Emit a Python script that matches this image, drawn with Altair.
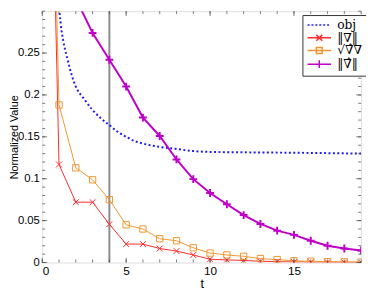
import altair as alt
import pandas as pd

# ---- data ----
t_steps = list(range(0, 20))
grad_norm = [1.0, 0.117, 0.072, 0.072, 0.0457, 0.022, 0.022, 0.0167, 0.0137, 0.009,
             0.0039, 0.0031, 0.0025, 0.0015, 0.001, 0.0007, 0.0005, 0.0004, 0.0003, 0.0002]
sqrt_hat = [1.0, 0.188, 0.113, 0.0987, 0.075, 0.045, 0.040, 0.0284, 0.026, 0.0176,
            0.0113, 0.009, 0.0074, 0.0047, 0.0035, 0.002, 0.0015, 0.001, 0.0008, 0.0005]
hat_norm = [1.0, 0.40, 0.315, 0.274, 0.242, 0.21, 0.173, 0.151, 0.123, 0.0995,
            0.083, 0.0695, 0.0566, 0.046, 0.038, 0.033, 0.026, 0.020, 0.0167, 0.0144]
obj_t = [0.95, 1.0, 1.1, 1.25, 1.5, 1.75, 2.0, 2.5, 3.0, 3.5, 4.0, 4.5, 5.0, 5.5,
         6.0, 7.0, 8.0, 9.0, 10, 12, 15, 19]
obj_v = [0.34, 0.31, 0.285, 0.265, 0.243, 0.224, 0.210, 0.195, 0.182, 0.172, 0.164,
         0.156, 0.150, 0.145, 0.142, 0.138, 0.1355, 0.133, 0.132, 0.1315, 0.131, 0.130]
marker_t = [4]

names = ["obj", "‖∇‖", "√∇̂∇", "‖∇̂‖"]
colors = ["#1a1aff", "#ff2a2a", "#f0962e", "#c000c8"]

x_major = [0, 5, 10, 15]
x_minor = list(range(0, 20))
y_major = [0, 0.05, 0.1, 0.15, 0.2, 0.25]
y_minor = [i / 100 for i in range(0, 31)]

W, H = 326, 257

df_obj = pd.DataFrame({"t": obj_t, "v": obj_v})
df_red = pd.DataFrame({"t": t_steps, "v": grad_norm})
df_org = pd.DataFrame({"t": t_steps, "v": sqrt_hat})
df_mag = pd.DataFrame({"t": t_steps, "v": hat_norm})

xs = alt.Scale(domain=[0, 19], nice=False, zero=False)
ys = alt.Scale(domain=[0, 0.3], nice=False, zero=False)
X = alt.X("t:Q", scale=xs,
          axis=alt.Axis(values=x_major, ticks=False, domain=False, grid=False,
                        title="t", labelFontSize=12, titleFontSize=13,
                        titleFontWeight="normal", labelPadding=3, titlePadding=2,
                        labelFont="Liberation Sans", titleFont="Liberation Sans"))
Y = alt.Y("v:Q", scale=ys,
          axis=alt.Axis(values=y_major, ticks=False, domain=False, grid=False,
                        format="~g", title="Normalized Value", labelFontSize=11.5,
                        titleFontSize=11, titleFontWeight="normal", labelPadding=3,
                        titlePadding=-2, labelFont="Liberation Sans",
                        titleFont="Liberation Sans"))

X_plain = alt.X("t:Q", scale=xs)
Y_plain = alt.Y("v:Q", scale=ys)

vline = alt.Chart(pd.DataFrame({"t": marker_t})).mark_rule(
    color="#8a8a8a", strokeWidth=2).encode(x=X)

line_obj = alt.Chart(df_obj).mark_line(
    color=colors[0], strokeWidth=2, strokeDash=[2, 2.5], interpolate="monotone",
    clip=True).encode(x=X, y=Y)
line_red = alt.Chart(df_red).mark_line(color=colors[1], strokeWidth=1, clip=True).encode(x=X_plain, y=Y_plain)
line_org = alt.Chart(df_org).mark_line(color=colors[2], strokeWidth=1, clip=True).encode(x=X_plain, y=Y_plain)
line_mag = alt.Chart(df_mag).mark_line(color=colors[3], strokeWidth=2, clip=True).encode(x=X_plain, y=Y_plain)

x_path = "M-1,-1L1,1M-1,1L1,-1"
plus_path = "M-1,0H1M0,-1V1"
pt_red = alt.Chart(df_red).mark_point(shape=x_path, size=36, color=colors[1], filled=False,
                                      strokeWidth=1, clip=True, opacity=1).encode(x=X_plain, y=Y_plain)
pt_org = alt.Chart(df_org).mark_point(shape="square", size=42, color=colors[2], filled=False,
                                      strokeWidth=1, clip=True, opacity=1).encode(x=X_plain, y=Y_plain)
pt_mag = alt.Chart(df_mag).mark_point(shape=plus_path, size=64, color=colors[3], filled=False,
                                      strokeWidth=2, clip=True, opacity=1).encode(x=X_plain, y=Y_plain)

# legend from an invisible layer
leg_paths = [
    "M-2.4,0H-2M-1.6,0H-1.2M-0.8,0H-0.4M0,0H0.4M0.8,0H1.2M1.6,0H2",
    "M-2.4,0H2.4M-0.6,-0.6L0.6,0.6M-0.6,0.6L0.6,-0.6",
    "M-2.4,0H2.4M-0.6,-0.6H0.6V0.6H-0.6Z",
    "M-2.4,0H2.4M0,-0.8V0.8",
]
legend = alt.Legend(title=None, orient="none", legendX=266, legendY=4,
                    symbolOpacity=1, symbolSize=100, symbolStrokeWidth=1.5,
                    symbolOffset=7, labelOffset=12, labelFont="DejaVu Serif",
                    labelFontSize=12.5, padding=4, rowPadding=0,
                    strokeColor="#333", fillColor="white", symbolFillColor="transparent")
leg_layer = alt.Chart(pd.DataFrame({"series": names})).mark_point(
    opacity=0, filled=False).encode(
    color=alt.Color("series:N", scale=alt.Scale(domain=names, range=colors),
                    sort=names, legend=legend),
    shape=alt.Shape("series:N", scale=alt.Scale(domain=names, range=leg_paths),
                    sort=names, legend=legend),
)

tick_color = "#444"
def xticks(vals, size, ypos):
    return alt.Chart(pd.DataFrame({"t": vals})).mark_tick(
        color=tick_color, size=size, thickness=1).encode(x=X_plain, y=alt.value(ypos))
def yticks(vals, size, xpos):
    return alt.Chart(pd.DataFrame({"v": vals})).mark_tick(
        color=tick_color, size=size, thickness=1).encode(y=Y_plain, x=alt.value(xpos))

ticks = [
    xticks(x_major, 5, H - 2.5), xticks(x_minor, 3, H - 1.5),
    xticks(x_major, 5, 2.5), xticks(x_minor, 3, 1.5),
    yticks(y_major, 5, 2.5), yticks(y_minor, 3, 1.5),
    yticks(y_major, 5, W - 2.5), yticks(y_minor, 3, W - 1.5),
]

chart = alt.layer(
    vline, line_obj, line_red, line_org, line_mag, pt_red, pt_org, pt_mag,
    *ticks, leg_layer
).properties(
    width=W, height=H,
    autosize=alt.AutoSizeParams(type="none"),
    padding={"left": 35, "top": 0, "right": 5, "bottom": 30},
).configure_view(stroke="#444", strokeWidth=1).configure(background="white")

chart.save("out.html", embed_options={"renderer": "svg", "actions": False})
